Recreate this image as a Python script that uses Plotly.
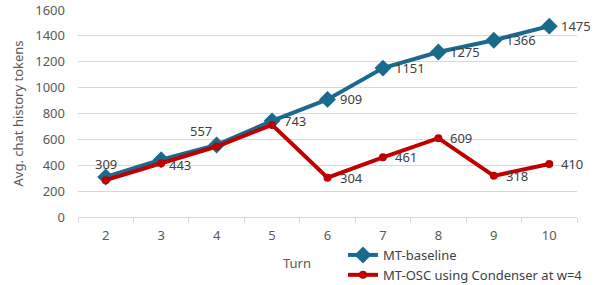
import plotly.graph_objects as go

turns = ["2", "3", "4", "5", "6", "7", "8", "9", "10"]
baseline = [309, 443, 557, 743, 909, 1151, 1275, 1366, 1475]
osc = [285, 415, 545, 712, 304, 461, 609, 318, 410]
osc_labelled = [False, False, False, False, True, True, True, True, True]
y_ticks = [0, 200, 400, 600, 800, 1000, 1200, 1400, 1600]

BLUE = "#1A6A8D"
RED = "#C00000"
TXT = "#404040"
GRAY = "#595959"
FONT = "Noto Sans"

fig = go.Figure()
fig.add_trace(go.Scatter(
    x=turns, y=baseline, name="MT-baseline", mode="lines+markers",
    line=dict(color=BLUE, width=4),
    marker=dict(symbol="diamond", size=13, color=BLUE),
    cliponaxis=False,
))
fig.add_trace(go.Scatter(
    x=turns, y=osc, name="MT-OSC using Condenser at w=4", mode="lines+markers",
    line=dict(color=RED, width=4),
    marker=dict(symbol="circle", size=8, color=RED),
    cliponaxis=False,
))

# label placement (anchor, xshift, yshift) for baseline labels
blue_place = [("center", 0, 13), ("left", 6, -5), ("right", -3, 14), ("left", 10, 0),
              ("left", 10, 0), ("left", 10, 0), ("left", 10, 0), ("left", 10, 0), ("left", 10, 0)]
annotations = []
for i, (v, (xa, xs, ys)) in enumerate(zip(baseline, blue_place)):
    annotations.append(dict(x=i, y=v, xref="x", yref="y", text=str(v), showarrow=False,
                            xanchor=xa, yanchor="middle", xshift=xs, yshift=ys,
                            font=dict(family=FONT, size=13, color=TXT)))
for i, (v, show) in enumerate(zip(osc, osc_labelled)):
    if show:
        annotations.append(dict(x=i, y=v, xref="x", yref="y", text=str(v), showarrow=False,
                                xanchor="left", yanchor="middle", xshift=10, yshift=0,
                                font=dict(family=FONT, size=13, color=TXT)))
annotations.append(dict(text="Turn", x=0.439, y=-0.222, xref="paper", yref="paper",
                        xanchor="center", yanchor="middle", showarrow=False,
                        font=dict(family=FONT, size=13, color=GRAY)))

fig.update_layout(
    width=599, height=285,
    margin=dict(l=78, r=22, t=10, b=68, autoexpand=False),
    paper_bgcolor="white", plot_bgcolor="white",
    font=dict(family=FONT, size=13, color=GRAY),
    showlegend=True,
    legend=dict(x=0.531, y=-0.111, xanchor="left", yanchor="top",
                font=dict(family=FONT, size=13, color=TXT),
                tracegroupgap=0, itemwidth=30, bgcolor="rgba(0,0,0,0)"),
    annotations=annotations,
)
fig.update_xaxes(
    type="category", range=[-0.5, len(turns) - 0.5],
    tickson="boundaries", ticks="outside", ticklen=5, tickcolor="#D9D9D9",
    showline=True, linecolor="#D9D9D9", linewidth=1, showgrid=False,
    ticklabelstandoff=6,
    tickfont=dict(family=FONT, size=13, color=GRAY),
)
fig.update_yaxes(
    range=[0, 1600], tickvals=y_ticks, showgrid=True, gridcolor="#D9D9D9", gridwidth=1,
    zeroline=False, showline=False, ticklabelstandoff=12,
    title=dict(text="Avg. chat history tokens", font=dict(family=FONT, size=13, color=GRAY), standoff=8),
    tickfont=dict(family=FONT, size=13, color=GRAY),
)

fig.write_html("out.html", config={"displayModeBar": False},
               post_script="document.body.style.margin='0';")
